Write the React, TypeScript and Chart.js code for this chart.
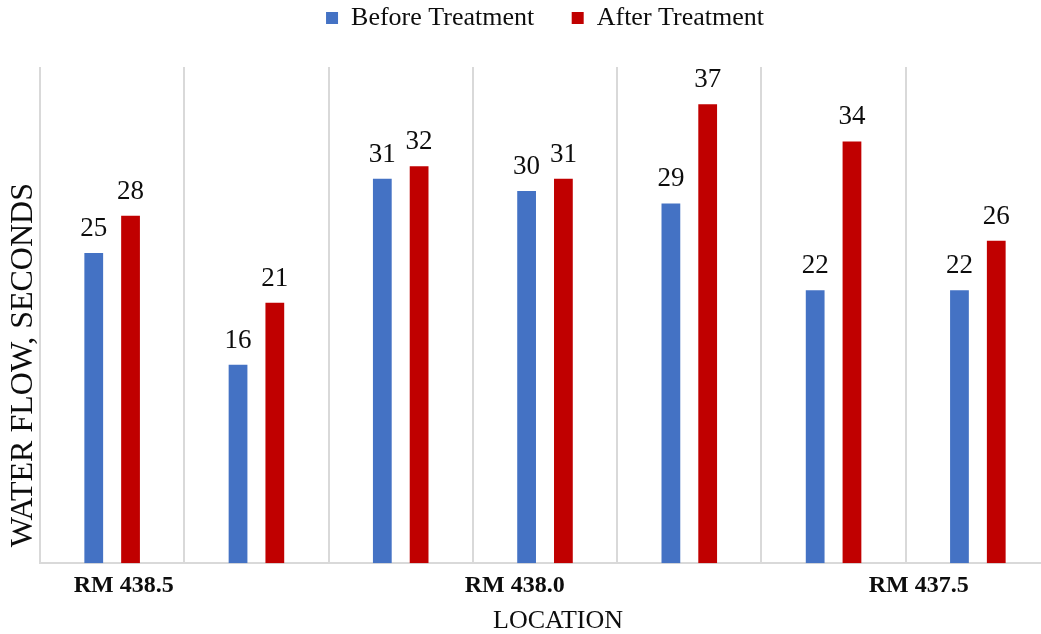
import React, { useEffect, useRef } from 'react';
import { Chart, registerables } from 'chart.js';

Chart.register(...registerables);

// ---- data ----
const categories = ['1', '2', '3', '4', '5', '6', '7'];
const beforeTreatment = [25, 16, 31, 30, 29, 22, 22];
const afterTreatment = [28, 21, 32, 31, 37, 34, 26];
const locationLabels = ['RM 438.5', 'RM 438.0', 'RM 437.5'];
const locationLabelPositions = [0.08, 2.79, 5.59];
const yMin = 0;
const yMax = 40;

const SERIF = "'Liberation Serif', 'Times New Roman', serif";
const TEXT = '#0d0d0d';
const BLUE = '#4472C4';
const RED = '#C00000';
const GRID = '#d9d9d9';

export default function App() {
  const ref = useRef<HTMLCanvasElement>(null);

  useEffect(() => {
    const canvas = ref.current;
    if (!canvas) return;

    const valueLabels = {
      id: 'valueLabels',
      afterDatasetsDraw(chart: any) {
        const ctx = chart.ctx;
        ctx.save();
        ctx.font = `27px ${SERIF}`;
        ctx.fillStyle = TEXT;
        ctx.textAlign = 'center';
        ctx.textBaseline = 'alphabetic';
        chart.data.datasets.forEach((ds: any, di: number) => {
          const meta = chart.getDatasetMeta(di);
          meta.data.forEach((el: any, i: number) => {
            ctx.fillText(String(ds.data[i]), el.x, el.y - 17);
          });
        });
        ctx.restore();
      },
    };

    const legendGap = {
      id: 'legendGap',
      beforeInit(chart: any) {
        const legend = chart.legend;
        if (!legend) return;
        const orig = legend.fit;
        legend.fit = function () {
          orig.call(this);
          this.height += 26;
        };
      },
    };

    const chart = new Chart(canvas, {
      type: 'bar',
      data: {
        labels: categories,
        datasets: [
          {
            label: 'Before Treatment',
            data: beforeTreatment,
            backgroundColor: BLUE,
            borderWidth: 0,
            categoryPercentage: 0.51,
            barPercentage: 0.51,
            xAxisID: 'x',
            yAxisID: 'y',
          },
          {
            label: 'After Treatment',
            data: afterTreatment,
            backgroundColor: RED,
            borderWidth: 0,
            categoryPercentage: 0.51,
            barPercentage: 0.51,
            xAxisID: 'x',
            yAxisID: 'y',
          },
        ],
      },
      options: {
        animation: false,
        responsive: false,
        maintainAspectRatio: false,
        devicePixelRatio: 1,
        layout: { padding: 0 },
        plugins: {
          tooltip: { enabled: false },
          title: { display: false },
          legend: {
            display: true,
            position: 'top',
            fullSize: false,
            labels: {
              boxWidth: 12,
              boxHeight: 12,
              padding: 5,
              color: TEXT,
              font: { family: SERIF, size: 26 },
              generateLabels(chart: any) {
                const items = (Chart as any).defaults.plugins.legend.labels.generateLabels(chart);
                items.forEach((it: any, i: number) => {
                  if (i < items.length - 1) it.text = it.text + '     ';
                });
                return items;
              },
            },
          },
        },
        scales: {
          x: {
            type: 'category',
            position: 'bottom',
            weight: 0,
            offset: true,
            ticks: { display: false },
            grid: {
              display: true,
              offset: true,
              drawTicks: false,
              color: (c: any) => (c.index >= categories.length ? 'rgba(0,0,0,0)' : GRID),
              lineWidth: 2,
            },
            border: { display: true, color: GRID, width: 2 },
          },
          x2: {
            type: 'linear',
            position: 'bottom',
            weight: 1,
            offset: false,
            bounds: 'data',
            beginAtZero: false,
            min: -0.5,
            max: categories.length - 0.5,
            afterBuildTicks: (scale: any) => {
              scale.ticks = locationLabelPositions.map((v) => ({ value: v }));
            },
            ticks: {
              autoSkip: false,
              maxRotation: 0,
              minRotation: 0,
              padding: 8,
              color: TEXT,
              font: { family: SERIF, size: 24, weight: 'bold' },
              callback: (value: any) => {
                const idx = locationLabelPositions.indexOf(value);
                return idx >= 0 ? locationLabels[idx] : '';
              },
            },
            grid: { display: false, drawTicks: false, offset: false },
            border: { display: false },
            title: {
              display: true,
              text: '    LOCATION',
              color: TEXT,
              font: { family: SERIF, size: 26, lineHeight: 1 },
              padding: { top: 0, bottom: 0 },
            },
          },
          y: {
            type: 'linear',
            position: 'left',
            min: yMin,
            max: yMax,
            ticks: { display: false },
            grid: { display: false, drawTicks: false },
            border: { display: false },
            title: {
              display: true,
              align: 'start',
              text: '  WATER FLOW, SECONDS',
              color: TEXT,
              font: { family: SERIF, size: 32, lineHeight: 1 },
              padding: { top: 8, bottom: 0 },
            },
          },
        },
      } as any,
      plugins: [legendGap, valueLabels],
    });

    return () => chart.destroy();
  }, []);

  return (
    <div
      style={{
        position: 'fixed',
        left: 0,
        top: 0,
        width: 1041,
        height: 634,
        overflow: 'hidden',
        background: '#ffffff',
      }}
    >
      <canvas ref={ref} width={1050} height={634} style={{ display: 'block' }} />
    </div>
  );
}
